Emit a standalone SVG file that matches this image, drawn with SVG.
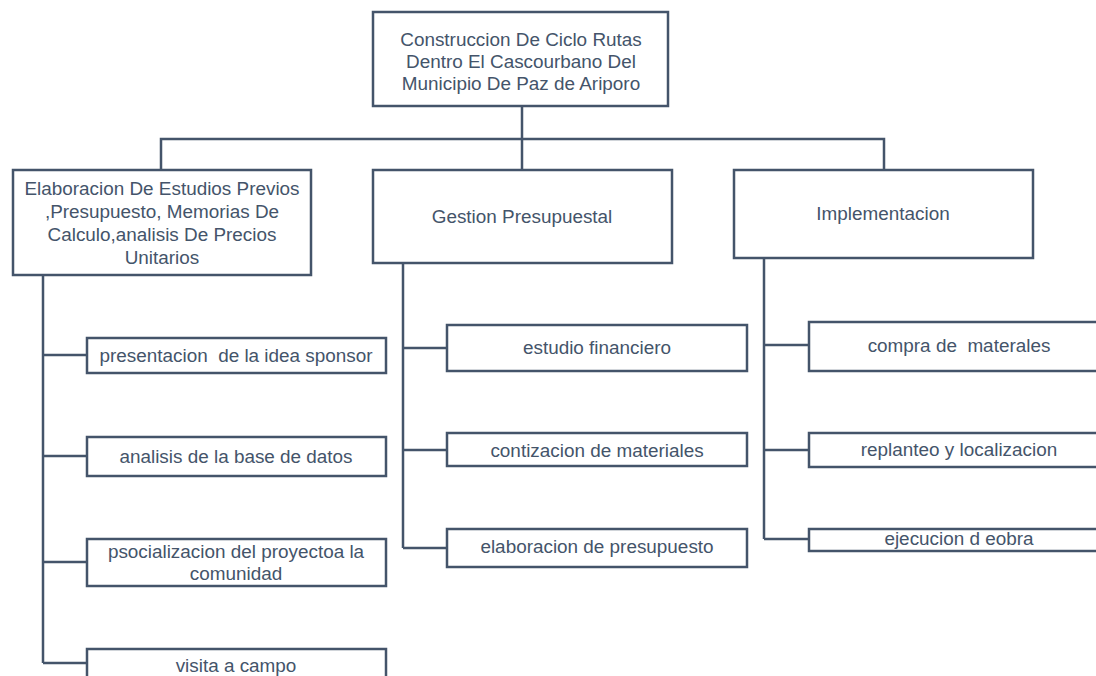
<svg xmlns="http://www.w3.org/2000/svg" width="1096" height="676" viewBox="0 0 1096 676">
<style>
.box{fill:#ffffff;stroke:#44546A;stroke-width:2.5}
.ln{fill:none;stroke:#44546A;stroke-width:2.5}
text{font-family:"Liberation Sans",Arial,sans-serif;font-size:18.9px;fill:#44546A;text-anchor:middle;white-space:pre}
</style>
<rect width="1096" height="676" fill="#ffffff"/>
<g id="connectors">
<path class="ln" d="M522 106 V139 M161 170 V139 H884 V170 M522 139 V170"/>
<path class="ln" d="M43 275 V663 M43 355 H87 M43 456 H87 M43 562 H87 M43 663 H87"/>
<path class="ln" d="M403 263 V548 M403 348 H447 M403 450 H447 M403 548 H447"/>
<path class="ln" d="M764 258 V539 M764 345 H809 M764 450 H809 M764 539 H809"/>
</g>
<g id="root">
<rect class="box" x="373" y="12" width="295" height="94"/>
<text x="521" y="46">Construccion De Ciclo Rutas</text>
<text x="521" y="68">Dentro El Cascourbano Del</text>
<text x="521" y="90">Municipio De Paz de Ariporo</text>
</g>
<g id="estudios">
<rect class="box" x="13" y="170" width="298" height="105"/>
<text x="162" y="195">Elaboracion De Estudios Previos</text>
<text x="162" y="218">,Presupuesto, Memorias De</text>
<text x="162" y="241">Calculo,analisis De Precios</text>
<text x="162" y="264">Unitarios</text>
</g>
<g id="gestion">
<rect class="box" x="373" y="170" width="299" height="93"/>
<text x="522" y="223">Gestion Presupuestal</text>
</g>
<g id="implementacion">
<rect class="box" x="734" y="170" width="299" height="88"/>
<text x="883" y="220">Implementacion</text>
</g>
<g id="a1">
<rect class="box" x="87" y="338" width="299" height="35"/>
<text x="236" y="362" xml:space="preserve">presentacion  de la idea sponsor</text>
</g>
<g id="a2">
<rect class="box" x="87" y="437" width="299" height="39"/>
<text x="236" y="463">analisis de la base de datos</text>
</g>
<g id="a3">
<rect class="box" x="87" y="539" width="299" height="47"/>
<text x="236" y="558">psocializacion del proyectoa la</text>
<text x="236" y="580">comunidad</text>
</g>
<g id="a4">
<rect class="box" x="87" y="649" width="299" height="40"/>
<text x="236" y="672">visita a campo</text>
</g>
<g id="b1">
<rect class="box" x="447" y="325" width="300" height="46"/>
<text x="597" y="354">estudio financiero</text>
</g>
<g id="b2">
<rect class="box" x="447" y="433" width="300" height="33"/>
<text x="597" y="457">contizacion de materiales</text>
</g>
<g id="b3">
<rect class="box" x="447" y="529" width="300" height="38"/>
<text x="597" y="553">elaboracion de presupuesto</text>
</g>
<g id="c1">
<rect class="box" x="809" y="322" width="300" height="49"/>
<text x="959" y="352" xml:space="preserve">compra de  materales</text>
</g>
<g id="c2">
<rect class="box" x="809" y="433" width="300" height="34"/>
<text x="959" y="456">replanteo y localizacion</text>
</g>
<g id="c3">
<rect class="box" x="809" y="529" width="300" height="22"/>
<text x="959" y="545">ejecucion d eobra</text>
</g>
</svg>
